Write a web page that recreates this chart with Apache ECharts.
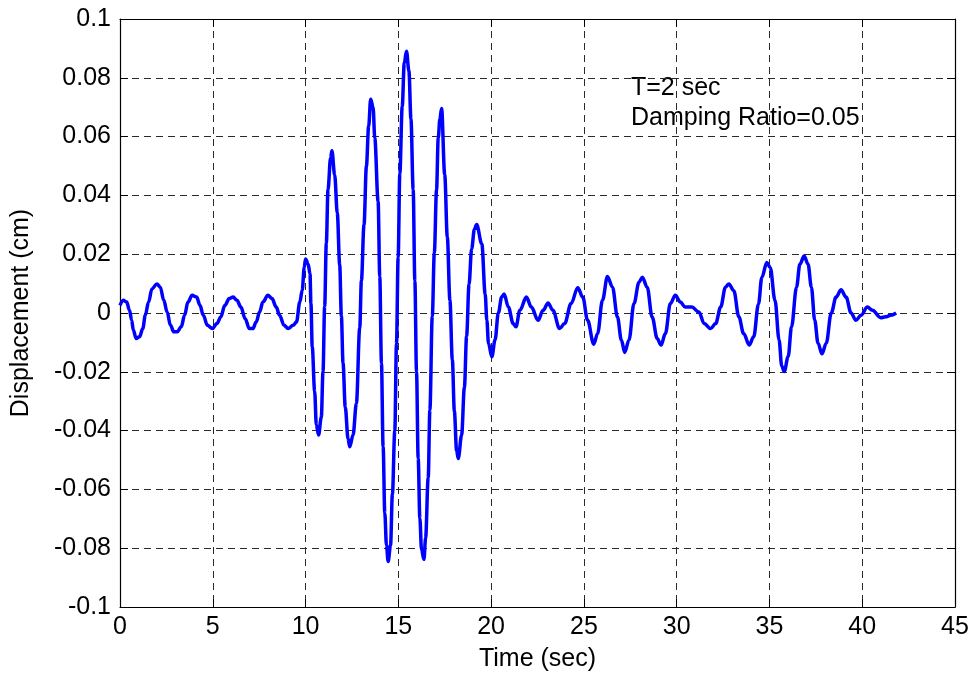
<!DOCTYPE html>
<html>
<head>
<meta charset="utf-8">
<script src="https://cdn.jsdelivr.net/npm/echarts@6/dist/echarts.min.js"></script>
<style>
  html, body { margin: 0; padding: 0; background: #fff; }
  #chart { width: 979px; height: 680px; }
</style>
</head>
<body>
<div id="chart"></div>
<script>
// Time samples (sec)
const timeSec = [
  0.00, 0.18, 0.36, 0.51, 0.63, 0.72, 0.87, 1.05, 1.23, 1.36, 1.54, 1.72, 1.99, 2.17, 2.36, 2.54,
  2.72, 2.90, 3.08, 3.30, 3.48, 3.66, 3.89, 4.13, 4.31, 4.49, 4.71, 4.98, 5.22, 5.43, 5.65, 5.89,
  6.10, 6.30, 6.52, 6.74, 6.97, 7.16, 7.34, 7.52, 7.70, 7.97, 8.19, 8.42, 8.60, 8.84, 9.06, 9.33,
  9.51, 9.69, 9.82, 9.93, 10.00, 10.14, 10.24, 10.29, 10.36, 10.49, 10.58, 10.70, 10.85, 10.94,
  11.03, 11.12, 11.21, 11.35, 11.42, 11.57, 11.71, 11.84, 11.93, 12.02, 12.14, 12.29, 12.38, 12.56,
  12.74, 12.92, 13.01, 13.15, 13.28, 13.40, 13.51, 13.64, 13.73, 13.91, 14.00, 14.09, 14.18, 14.27,
  14.36, 14.45, 14.58, 14.68, 14.81, 14.90, 14.99, 15.08, 15.21, 15.32, 15.44, 15.57, 15.68, 15.80,
  15.89, 15.98, 16.07, 16.16, 16.25, 16.38, 16.47, 16.61, 16.70, 16.83, 16.94, 17.06, 17.15, 17.24,
  17.33, 17.50, 17.64, 17.78, 17.91, 18.02, 18.14, 18.23, 18.41, 18.56, 18.68, 18.81, 18.95, 19.10,
  19.22, 19.50, 19.68, 19.77, 19.86, 20.04, 20.21, 20.39, 20.57, 20.70, 20.93, 21.19, 21.34, 21.55,
  21.90, 22.17, 22.53, 22.80, 23.07, 23.33, 23.69, 23.96, 24.31, 24.67, 24.94, 25.20, 25.53, 25.74,
  26.00, 26.27, 26.54, 26.81, 27.02, 27.20, 27.43, 27.70, 27.97, 28.15, 28.41, 28.68, 28.95, 29.16,
  29.39, 29.66, 29.93, 30.20, 30.46, 30.82, 31.20, 31.48, 31.83, 32.10, 32.37, 32.63, 32.81, 33.08,
  33.35, 33.61, 33.91, 34.15, 34.41, 34.59, 34.86, 35.04, 35.30, 35.52, 35.66, 35.80, 36.01, 36.19,
  36.46, 36.64, 36.87, 37.08, 37.26, 37.44, 37.62, 37.83, 38.06, 38.33, 38.59, 38.86, 39.13, 39.40,
  39.66, 39.93, 40.28, 40.55, 41.00, 41.26, 41.53, 41.83
];

// Displacement response (cm)
const displacementCm = [
  0.0026, 0.0043, 0.0037, 0.0009, -0.0025, -0.0059, -0.0087, -0.0081, -0.0053, -0.0008, 0.0037, 0.0082, 0.0099, 0.0088, 0.0043, 0.0003,
  -0.0042, -0.0064, -0.0064, -0.0047, -0.0008, 0.0037, 0.0060, 0.0054, 0.0026, -0.0008, -0.0042, -0.0053, -0.0036, -0.0014, 0.0026, 0.0049,
  0.0054, 0.0043, 0.0020, -0.0019, -0.0053, -0.0053, -0.0031, 0.0003, 0.0037, 0.0060, 0.0049, 0.0020, -0.0008, -0.0042, -0.0053, -0.0042,
  -0.0031, 0.0037, 0.0077, 0.0156, 0.0184, 0.0167, 0.0133, 0.0032, -0.0115, -0.0266, -0.0380, -0.0415, -0.0354, -0.0200,
  0.0023, 0.0238, 0.0420, 0.0528, 0.0552, 0.0470, 0.0340, 0.0164, -0.0010, -0.0170, -0.0320, -0.0428, -0.0455, -0.0415,
  -0.0307, -0.0050, 0.0110, 0.0300, 0.0500, 0.0635, 0.0727, 0.0700, 0.0595, 0.0380, 0.0124, -0.0170, -0.0455, -0.0680,
  -0.0790, -0.0845, -0.0790, -0.0616, -0.0400, -0.0105, 0.0190, 0.0474, 0.0703, 0.0850, 0.0890, 0.0824, 0.0660, 0.0420,
  0.0110, -0.0200, -0.0495, -0.0698, -0.0805, -0.0838, -0.0765, -0.0560, -0.0330, -0.0010, 0.0205, 0.0420, 0.0595, 0.0660,
  0.0696, 0.0470, 0.0258, 0.0043, -0.0159, -0.0334, -0.0468, -0.0495, -0.0415, -0.0253, -0.0078, 0.0097, 0.0218, 0.0285,
  0.0301, 0.0235, 0.0065, -0.0025, -0.0104, -0.0149, -0.0092, 0.0000, 0.0054, 0.0065, 0.0020, -0.0036, -0.0047, 0.0009,
  0.0054, 0.0020, -0.0025, 0.0009, 0.0034, 0.0009, -0.0053, -0.0036, 0.0032, 0.0086, 0.0054, -0.0025, -0.0106, -0.0070,
  0.0043, 0.0124, 0.0088, -0.0014, -0.0092, -0.0134, -0.0092, 0.0032, 0.0105, 0.0122, 0.0088, -0.0014, -0.0087, -0.0109,
  -0.0070, 0.0032, 0.0060, 0.0037, 0.0020, 0.0020, 0.0003, -0.0036, -0.0053, -0.0036, 0.0020, 0.0088, 0.0099, 0.0076,
  -0.0013, -0.0070, -0.0109, -0.0081, 0.0031, 0.0121, 0.0172, 0.0155, 0.0043, -0.0092, -0.0180, -0.0199, -0.0148, -0.0047,
  0.0088, 0.0166, 0.0194, 0.0166, 0.0088, -0.0025, -0.0103, -0.0139, -0.0103, 0.0000, 0.0054, 0.0079, 0.0054, 0.0000,
  -0.0025, -0.0008, 0.0020, 0.0009, -0.0016, -0.0013, -0.0008, 0.0000
];

// Axis ranges and annotation lines
const timeRange = [0, 45, 5];
const dispRange = [-0.1, 0.1, 0.02];
const noteLines = ['T=2 sec', 'Damping Ratio=0.05'];

const FONT = '"Liberation Sans", Arial, sans-serif';
const FS = 25;
const fmtY = v => String(+v.toFixed(2));

const gridLine = { show: true, lineStyle: { color: '#2a2a2a', type: [7, 5], width: 1 } };
const tickIn = { show: true, inside: true, length: 8, lineStyle: { color: '#000' } };
const axisLn = { show: true, onZero: false, lineStyle: { color: '#000', width: 1.2 } };

const chart = echarts.init(document.getElementById('chart'), null, { renderer: 'canvas' });

chart.setOption({
  backgroundColor: '#fff',
  animation: false,
  grid: { left: 120, right: 24, top: 19, bottom: 73, containLabel: false },
  xAxis: [
    {
      type: 'value', min: timeRange[0], max: timeRange[1], interval: timeRange[2],
      name: 'Time (sec)', nameLocation: 'middle', nameGap: 40,
      nameTextStyle: { fontFamily: FONT, fontSize: FS, color: '#000' },
      axisLine: axisLn, axisTick: tickIn, splitLine: gridLine,
      axisLabel: { fontFamily: FONT, fontSize: FS, color: '#000', margin: 8 }
    },
    {
      type: 'value', position: 'top', min: timeRange[0], max: timeRange[1], interval: timeRange[2],
      axisLine: axisLn, axisTick: tickIn, splitLine: { show: false }, axisLabel: { show: false }
    }
  ],
  yAxis: [
    {
      type: 'value', min: dispRange[0], max: dispRange[1], interval: dispRange[2],
      name: 'Displacement (cm)', nameLocation: 'middle', nameGap: 86,
      nameTextStyle: { fontFamily: FONT, fontSize: FS, color: '#000' },
      axisLine: axisLn, axisTick: tickIn, splitLine: gridLine,
      axisLabel: { fontFamily: FONT, fontSize: FS, color: '#000', margin: 9, formatter: fmtY }
    },
    {
      type: 'value', position: 'right', min: dispRange[0], max: dispRange[1], interval: dispRange[2],
      axisLine: axisLn, axisTick: tickIn, splitLine: { show: false }, axisLabel: { show: false }
    }
  ],
  graphic: [
    {
      type: 'text', left: 631, top: 76,
      style: { text: noteLines[0], fontFamily: FONT, fontSize: FS, fill: '#000' }
    },
    {
      type: 'text', left: 631, top: 106,
      style: { text: noteLines[1], fontFamily: FONT, fontSize: FS, fill: '#000' }
    }
  ],
  series: [
    {
      type: 'line',
      xAxisIndex: 0, yAxisIndex: 0,
      data: timeSec.map((t, i) => [t, displacementCm[i]]),
      showSymbol: false,
      smooth: 0.35,
      smoothMonotone: 'x',
      lineStyle: { color: '#0000ff', width: 3.5, join: 'round' },
      itemStyle: { color: '#0000ff' },
      z: 3
    }
  ]
});
</script>
</body>
</html>
